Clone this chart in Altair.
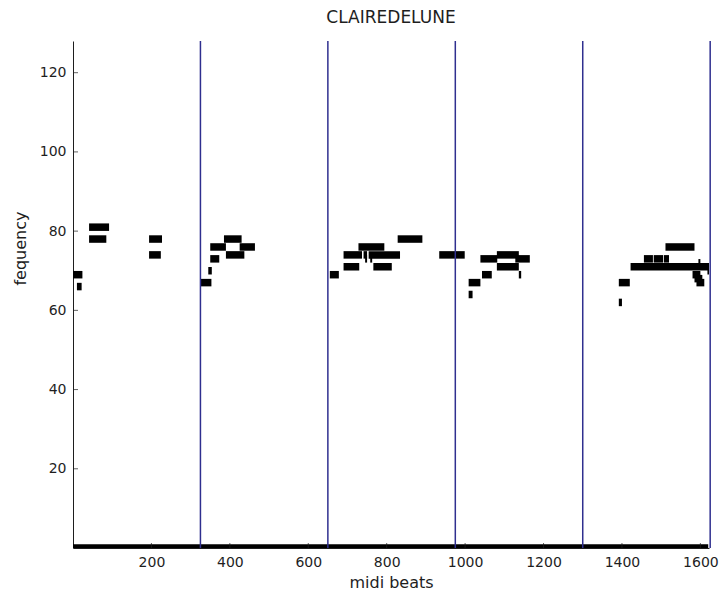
import altair as alt
import pandas as pd

# note segments: start beat, end beat, pitch
note_start = [0, 10, 41, 41, 194, 194,
              325, 345, 350, 350, 385, 390, 425,
              655, 690, 690, 741, 754, 728, 745, 758, 766, 828, 934,
              1009, 1009, 1043, 1039, 1081, 1081, 1128, 1137,
              1392, 1392, 1422, 1456, 1481, 1507, 1511, 1580, 1585, 1590, 1595, 1618,
              0]
note_end = [24, 22, 92, 85, 227, 224,
            353, 354, 373, 390, 430, 437, 464,
            678, 730, 737, 750, 834, 794, 750, 763, 813, 891, 999,
            1019, 1039, 1068, 1082, 1137, 1137, 1165, 1143,
            1400, 1420, 1630, 1479, 1505, 1520, 1585, 1600, 1605, 1610, 1600, 1630,
            1620]
note_pitch = [69, 66, 81, 78, 78, 74,
              67, 70, 73, 76, 78, 74, 76,
              69, 71, 74, 74, 74, 76, 73, 73, 71, 78, 74,
              64, 67, 69, 73, 74, 71, 73, 69,
              62, 67, 71, 73, 73, 73, 76, 69, 68, 67, 72, 70,
              0]

section_lines = [325, 650, 975, 1300, 1625]
x_ticks = [200, 400, 600, 800, 1000, 1200, 1400, 1600]
y_ticks = [20, 40, 60, 80, 100, 120]

notes = pd.DataFrame({"start": note_start, "end": note_end, "pitch": note_pitch})
lines = pd.DataFrame({"beat": section_lines})
xt = pd.DataFrame({"v": x_ticks})
yt = pd.DataFrame({"v": y_ticks})

FONT = "DejaVu Sans"
TXT = "#1e1e1e"
LBL = 14
TTL = 16
xscale = alt.Scale(domain=[0, 1622], nice=False, zero=False)
yscale = alt.Scale(domain=[0, 128], nice=False, zero=False)

note_layer = alt.Chart(notes).mark_rule(color="black", strokeWidth=7.5, clip=True).encode(
    x=alt.X("start:Q", scale=xscale,
            axis=alt.Axis(values=x_ticks, format="d", title="midi beats", grid=False, ticks=False,
                          tickSize=0, labelPadding=7, titleY=26, domainColor=TXT, labelColor=TXT,
                          titleColor=TXT, labelFont=FONT, titleFont=FONT, labelFontSize=LBL,
                          titleFontSize=TTL, titleFontWeight="normal")),
    x2="end:Q",
    y=alt.Y("pitch:Q", scale=yscale,
            axis=alt.Axis(values=y_ticks, format="d", title="fequency", grid=False, ticks=False,
                          tickSize=0, labelPadding=7, titleX=-45, titleY=207, domainColor=TXT,
                          labelColor=TXT, titleColor=TXT, labelFont=FONT, titleFont=FONT,
                          labelFontSize=LBL, titleFontSize=TTL, titleFontWeight="normal")),
)

line_layer = alt.Chart(lines).mark_rule(color="#2f2f8f", strokeWidth=1.5).encode(
    x=alt.X("beat:Q", scale=xscale)
)

ytick_layer = alt.Chart(yt).mark_tick(orient="horizontal", size=5, thickness=1, xOffset=2.5,
                                      color=TXT).encode(
    y=alt.Y("v:Q", scale=yscale), x=alt.value(0)
)
xtick_layer = alt.Chart(xt).mark_tick(orient="vertical", size=5, thickness=1, yOffset=-2.5,
                                      color=TXT).encode(
    x=alt.X("v:Q", scale=xscale), y=alt.value(507)
)

chart = alt.layer(note_layer, line_layer, ytick_layer, xtick_layer).properties(
    width=636, height=507,
    title=alt.TitleParams("CLAIREDELUNE", font=FONT, fontSize=17, fontWeight="normal",
                          color=TXT, baseline="alphabetic", offset=0),
    autosize=alt.AutoSizeParams(type="none"),
    padding={"left": 65, "top": 33, "right": 10, "bottom": 48},
).configure_view(strokeWidth=0).configure_axis(grid=False)

chart.save("out.html", embed_options={"renderer": "svg", "actions": False})
